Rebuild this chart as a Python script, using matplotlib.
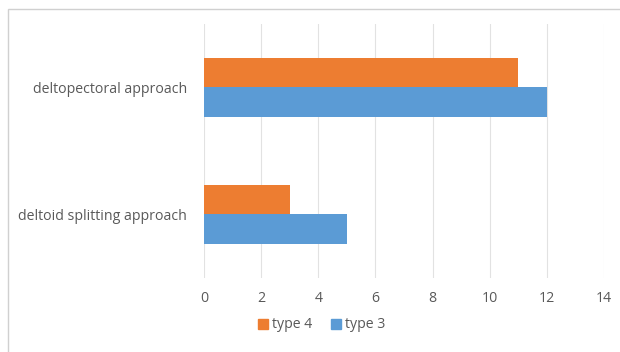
import matplotlib
matplotlib.use("Agg")
import matplotlib.pyplot as plt
from matplotlib.patches import Rectangle, Patch

categories = ["deltoid splitting approach", "deltopectoral approach"]
type4 = [3, 11]
type3 = [5, 12]
series_names = ["type 4", "type 3"]
xticks = [0, 2, 4, 6, 8, 10, 12, 14]

orange = "#ED7D31"
blue = "#5B9BD5"
text_gray = "#595959"
grid_gray = "#E2E2E2"

plt.rcParams["font.family"] = ["Open Sans", "DejaVu Sans"]

fig = plt.figure(figsize=(6.2, 3.52), dpi=100)
fig.patch.set_facecolor("white")

# outer chart-area frame
fig.add_artist(Rectangle((8 / 620, -0.01), 1.0, 1 - 9 / 352 + 0.01,
                         transform=fig.transFigure, fill=False,
                         edgecolor="#D0D0D0", linewidth=1.0))

ax = fig.add_axes([204 / 620, 1 - 278 / 352, 400 / 620, 254 / 352])

bar_h = 0.236
y = [0, 1]
ax.barh([v + bar_h / 2 for v in y], type4, height=bar_h, color=orange,
        label=series_names[0], zorder=3)
ax.barh([v - bar_h / 2 for v in y], type3, height=bar_h, color=blue,
        label=series_names[1], zorder=3)

ax.set_ylim(-0.5, 1.5)
ax.set_xlim(0, 14)
ax.set_xticks(xticks)
ax.set_xticklabels([str(t) for t in xticks])
ax.set_yticks(y)
ax.set_yticklabels(categories)

ax.xaxis.grid(True, color=grid_gray, linewidth=0.8, zorder=0)
ax.yaxis.grid(False)
for s in ax.spines.values():
    s.set_visible(False)
ax.tick_params(axis="both", length=0, colors=text_gray, labelsize=10.2)
ax.tick_params(axis="x", pad=9)
ax.tick_params(axis="y", pad=12)

handles = [Patch(color=orange), Patch(color=blue)]
fig.legend(handles, series_names, loc="center", bbox_to_anchor=(322 / 620, 1 - 325 / 352),
           ncol=2, frameon=False, fontsize=10.2, handlelength=0.7, handleheight=0.7,
           handletextpad=0.3, columnspacing=1.3, labelcolor=text_gray)

fig.savefig("out.png", dpi=100, facecolor="white")
